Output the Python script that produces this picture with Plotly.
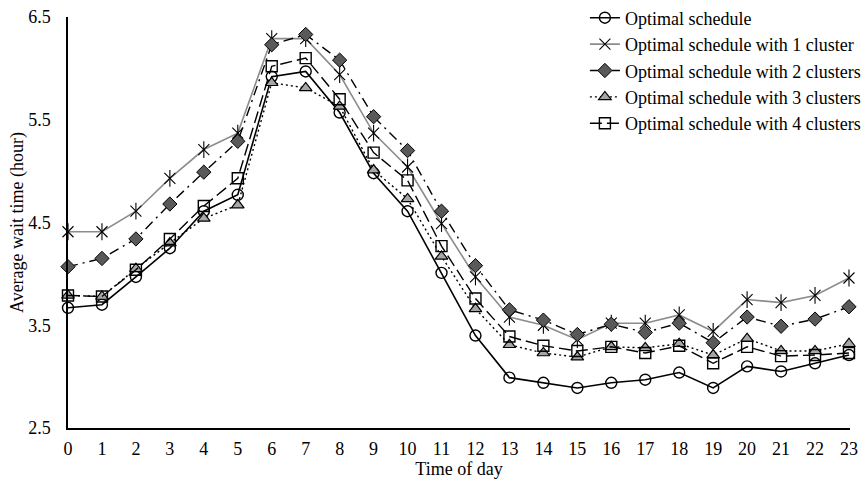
import plotly.graph_objects as go

hours = list(range(24))
tick_labels = [str(h) for h in hours]
y_ticks = [2.5, 3.5, 4.5, 5.5, 6.5]

optimal = [3.67, 3.70, 3.97, 4.25, 4.61, 4.77, 5.92, 5.97, 5.57, 4.98, 4.61, 4.01,
           3.40, 2.99, 2.94, 2.89, 2.94, 2.97, 3.04, 2.89, 3.10, 3.05, 3.13, 3.21]
cluster1 = [4.41, 4.41, 4.61, 4.93, 5.21, 5.37, 6.29, 6.29, 5.94, 5.37, 5.04, 4.49,
            3.97, 3.58, 3.50, 3.36, 3.52, 3.52, 3.60, 3.44, 3.75, 3.72, 3.79, 3.96]
cluster2 = [4.07, 4.15, 4.34, 4.68, 4.99, 5.29, 6.23, 6.33, 6.08, 5.53, 5.20, 4.61,
            4.08, 3.65, 3.55, 3.41, 3.51, 3.43, 3.52, 3.33, 3.58, 3.49, 3.56, 3.68]
cluster3 = [3.79, 3.78, 4.05, 4.30, 4.54, 4.67, 5.86, 5.81, 5.63, 5.01, 4.73, 4.17,
            3.66, 3.31, 3.23, 3.19, 3.29, 3.28, 3.32, 3.21, 3.37, 3.25, 3.25, 3.32]
cluster4 = [3.79, 3.78, 4.04, 4.34, 4.66, 4.93, 6.02, 6.10, 5.70, 5.18, 4.91, 4.27,
            3.76, 3.39, 3.30, 3.25, 3.29, 3.23, 3.30, 3.13, 3.29, 3.20, 3.21, 3.23]

series_names = ["Optimal schedule",
                "Optimal schedule with 1 cluster",
                "Optimal schedule with 2 clusters",
                "Optimal schedule with 3 clusters",
                "Optimal schedule with 4 clusters"]

FONT = "Liberation Serif, Times New Roman, serif"
FS = 18

fig = go.Figure()

styles = [
    dict(values=optimal, line=dict(color="black", width=1.6, dash="solid"),
         marker=dict(symbol="circle-open", size=11, color="black", line=dict(width=1.4))),
    dict(values=cluster1, line=dict(color="#8c8c8c", width=1.6, dash="solid"),
         marker=dict(symbol="x-thin-open", size=11, color="black", line=dict(width=1.1, color="black"))),
    dict(values=cluster2, line=dict(color="black", width=1.4, dash="10px,5px,2px,5px"),
         marker=dict(symbol="diamond", size=11, color="#595959", line=dict(width=1, color="black"))),
    dict(values=cluster3, line=dict(color="black", width=1.4, dash="2px,3px"),
         marker=dict(symbol="triangle-up", size=11, color="#a6a6a6", line=dict(width=1.2, color="black"))),
    dict(values=cluster4, line=dict(color="black", width=1.4, dash="12px,5px"),
         marker=dict(symbol="square-open", size=11, color="black", line=dict(width=1.4))),
]

for i, (name, st) in enumerate(zip(series_names, styles)):
    fig.add_trace(go.Scatter(
        x=hours, y=st["values"], name=name, mode="lines+markers",
        line=st["line"], marker=st["marker"], cliponaxis=False,
        legendgroup=f"g{i}", legendrank=i + 1,
    ))
    if i == 1:
        # vertical stroke completing the asterisk marker
        fig.add_trace(go.Scatter(
            x=hours, y=st["values"], mode="markers", showlegend=False,
            legendgroup=f"g{i}", cliponaxis=False, hoverinfo="skip",
            marker=dict(symbol="line-ns-open", size=12, color="black",
                        line=dict(width=1.1, color="black")),
        ))

fig.update_layout(
    width=862, height=480,
    margin=dict(l=68, r=12, t=17, b=52, autoexpand=False),
    paper_bgcolor="white", plot_bgcolor="white",
    font=dict(family=FONT, size=FS, color="black"),
    showlegend=True,
    legend=dict(x=0.661, y=1.0426, xanchor="left", yanchor="top",
                bgcolor="rgba(0,0,0,0)", font=dict(family=FONT, size=FS),
                itemwidth=30, tracegroupgap=0),
)

fig.update_xaxes(
    range=[0, 23.03], tickmode="array", tickvals=hours, ticktext=tick_labels,
    showline=True, linecolor="black", linewidth=1.5, showgrid=False, zeroline=False,
    ticks="", ticklabelstandoff=4, automargin=False, ticklabeloverflow="allow",
    tickfont=dict(family=FONT, size=FS),
    title=dict(text="Time of day", font=dict(family=FONT, size=FS), standoff=4),
)
fig.update_yaxes(
    range=[2.5, 6.5], tickmode="array", tickvals=y_ticks, ticktext=[str(v) for v in y_ticks],
    showline=True, linecolor="black", linewidth=1.5, showgrid=False, zeroline=False,
    ticks="", ticklabelstandoff=12, automargin=False, ticklabeloverflow="allow",
    tickfont=dict(family=FONT, size=FS),
    title=dict(text="Average wait time (hour)", font=dict(family=FONT, size=FS), standoff=0),
)

fig.write_html("out.html",
               config={"displayModeBar": False},
               post_script="document.body.style.margin='0';document.body.style.overflow='hidden';")
